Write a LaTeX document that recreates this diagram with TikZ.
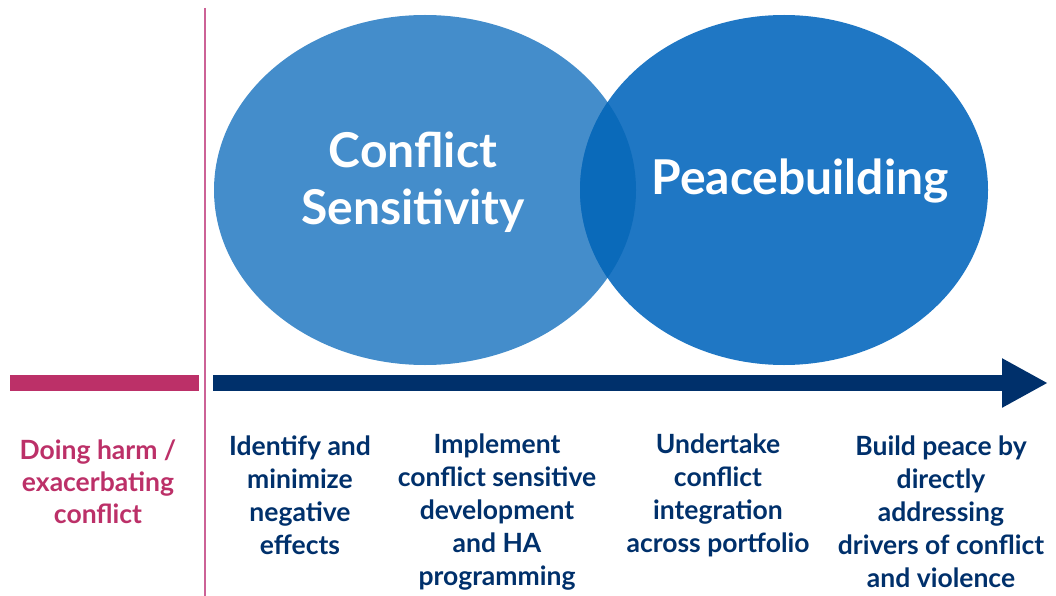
\documentclass[tikz,border=0pt]{standalone}
\usepackage{fontspec}
\setmainfont{Lato}
\usetikzlibrary{arrows.meta}

\definecolor{csblue}{RGB}{68,141,203}
\definecolor{pbblue}{RGB}{31,119,196}
\definecolor{lensblue}{RGB}{10,106,186}
\definecolor{navy}{RGB}{0,48,107}
\definecolor{harm}{RGB}{188,48,104}
\definecolor{divider}{RGB}{204,98,150}

\tikzset{
	bigword/.style={text=white,font=\fontsize{48}{57}\selectfont\bfseries,align=center},
	stage/.style={text=navy,font=\fontsize{26.5}{33}\selectfont\bfseries,align=center},
	harmtext/.style={text=harm,font=\fontsize{26.5}{32}\selectfont\bfseries,align=center},
}

\begin{document}
\begin{tikzpicture}[x=1pt,y=-1pt]
	
	\useasboundingbox (0,0) rectangle (1056,596);
	
	% circles
	\fill[csblue] (425,190) ellipse [x radius=211,y radius=175];
	\fill[pbblue] (784,190) ellipse [x radius=204,y radius=175];
	\begin{scope}
		\clip (425,190) ellipse [x radius=211,y radius=175];
		\fill[lensblue] (784,190) ellipse [x radius=204,y radius=175];
	\end{scope}
	
	\node[bigword] (cs) at (413,182) {Conflict\\Sensitivity};
	\node[bigword] (pb) at (800,181) {Peacebuilding};
	
	% divider and bars
	\coordinate (divtop) at (205,8);
	\coordinate (divbot) at (205,596);
	\draw[divider,line width=1.5pt] (divtop) -- (divbot);
	
	\coordinate (harmleft)  at (10,383);
	\coordinate (harmright) at (199,383);
	\draw[harm,line width=16pt] (harmleft) -- (harmright);
	
	\coordinate (start) at (213,383);
	\coordinate (tip)   at (1048,383);
	\draw[navy,line width=16pt,-{Triangle[length=46pt,width=46pt]}] (start) -- (tip);
	
	% texts below the arrow
	\node[harmtext] (harm) at (98,482)  {Doing harm /\\exacerbating\\conflict};
	\node[stage] (s1) at (300,495) {Identify and\\minimize\\negative\\effects};
	\node[stage] (s2) at (497,512) {Implement\\conflict sensitive\\development\\and HA\\programming};
	\node[stage] (s3) at (718,495) {Undertake\\conflict\\integration\\across portfolio};
	\node[stage] (s4) at (941,512) {Build peace by\\directly\\addressing\\drivers of conflict\\and violence};
	
\end{tikzpicture}
\end{document}
